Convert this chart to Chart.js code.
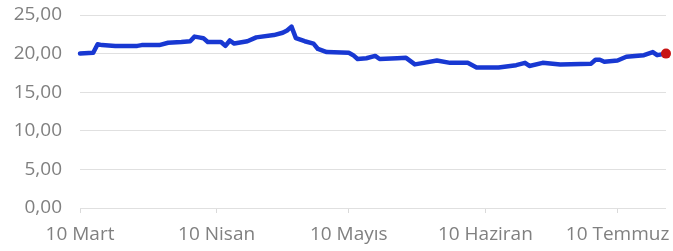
<!DOCTYPE html>
<html>
<head>
<meta charset="utf-8">
<script src="https://cdn.jsdelivr.net/npm/chart.js@4"></script>
<style>
  html, body { margin: 0; padding: 0; background: #fff; }
  #wrap { width: 673px; height: 251px; }
</style>
</head>
<body>
<div id="wrap"><canvas id="grafik"></canvas></div>
<script>
// tarih (ay-gün) ve değer
const tarihler = [
  '03-10', '03-11', '03-13', '03-14', '03-15', '03-18', '03-23', '03-24', '03-28', '03-30',
  '04-02', '04-04', '04-05', '04-06', '04-07', '04-08', '04-11', '04-12', '04-13', '04-14',
  '04-17', '04-19', '04-23', '04-25', '04-26', '04-27', '04-28', '04-30', '05-02', '05-03',
  '05-05', '05-10', '05-11', '05-12', '05-14', '05-16', '05-17', '05-21', '05-23', '05-25',
  '05-27', '05-30', '06-02', '06-06', '06-08', '06-13', '06-17', '06-19', '06-20', '06-23',
  '06-27', '07-04', '07-05', '07-06', '07-07', '07-10', '07-12', '07-16', '07-18', '07-19',
  '07-21'
];
const degerler = [
  20.0, 20.05, 20.1, 21.2, 21.1, 21.0, 21.0, 21.1, 21.1, 21.4,
  21.5, 21.6, 22.2, 22.1, 22.0, 21.5, 21.5, 21.0, 21.7, 21.3,
  21.6, 22.1, 22.4, 22.7, 23.0, 23.5, 22.0, 21.6, 21.3, 20.6,
  20.2, 20.1, 19.8, 19.3, 19.4, 19.7, 19.3, 19.4, 19.45, 18.6,
  18.8, 19.1, 18.8, 18.8, 18.2, 18.2, 18.5, 18.8, 18.4, 18.8,
  18.6, 18.7, 19.2, 19.2, 18.95, 19.1, 19.6, 19.8, 20.2, 19.8,
  20.0
];
const eksenTarihleri = ['03-10', '04-10', '05-10', '06-10', '07-10'];
const eksenEtiketleri = ['10 Mart', '10 Nisan', '10 Mayıs', '10 Haziran', '10 Temmuz'];
const yTikler = [0, 5, 10, 15, 20, 25];

function gunNo(s) {
  const [a, g] = s.split('-').map(Number);
  return (Date.UTC(2023, a - 1, g) - Date.UTC(2023, 2, 10)) / 86400000;
}

const noktalar = tarihler.map((t, i) => ({ x: gunNo(t), y: degerler[i] }));
const eksenGunleri = eksenTarihleri.map(gunNo);
const son = noktalar.length - 1;

Chart.defaults.font.family = '"Open Sans", sans-serif';
Chart.defaults.font.size = 19;
Chart.defaults.color = '#808080';

new Chart(document.getElementById('grafik'), {
  type: 'line',
  data: {
    datasets: [{
      data: noktalar,
      borderColor: '#1838d2',
      borderWidth: 4.5,
      tension: 0,
      borderJoinStyle: 'round',
      borderCapStyle: 'round',
      clip: false,
      pointRadius: ctx => ctx.dataIndex === son ? 5 : 0,
      pointBackgroundColor: '#c81414',
      pointBorderWidth: 0,
      pointHoverRadius: 0
    }]
  },
  options: {
    responsive: true,
    maintainAspectRatio: false,
    animation: false,
    layout: { padding: { top: 15, right: 7, bottom: 0, left: 0 } },
    plugins: { legend: { display: false }, tooltip: { enabled: false } },
    scales: {
      x: {
        type: 'linear',
        min: 0,
        max: gunNo(tarihler[son]),
        afterBuildTicks: s => { s.ticks = eksenGunleri.map(v => ({ value: v })); },
        afterFit: s => { s.height = 43; s.paddingLeft = 0; s.paddingRight = 0; },
        ticks: {
          autoSkip: false,
          maxRotation: 0,
          padding: 10,
          callback: v => eksenEtiketleri[eksenGunleri.indexOf(v)]
        },
        grid: { drawOnChartArea: false, tickLength: 5, color: '#dadada' },
        border: { display: false }
      },
      y: {
        min: 0,
        max: 25,
        afterBuildTicks: s => { s.ticks = yTikler.map(v => ({ value: v })); },
        afterFit: s => { s.width = 80; s.paddingTop = 0; s.paddingBottom = 0; },
        ticks: {
          padding: 18,
          callback: v => v.toFixed(2).replace('.', ',')
        },
        grid: { drawTicks: false, color: '#e0e0e0', lineWidth: 1 },
        border: { display: false }
      }
    }
  }
});
</script>
</body>
</html>
